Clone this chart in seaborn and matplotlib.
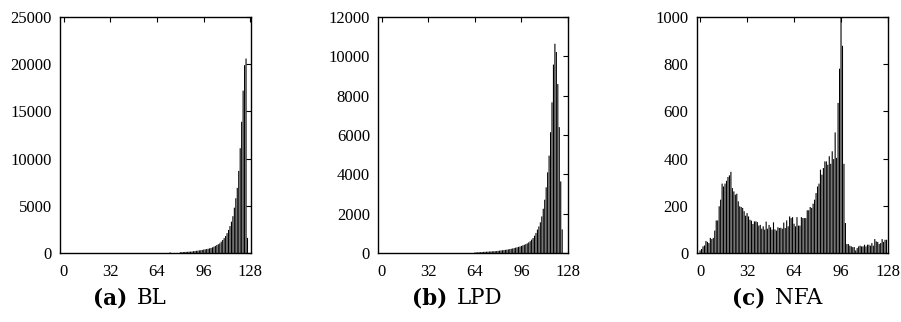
import numpy as np
import pandas as pd
import matplotlib
matplotlib.use("Agg")
import matplotlib.pyplot as plt
import seaborn as sns

# ---------------- data ----------------
bins = list(range(128))

bl_values = ([0] * 73 + [60] + [0] * 6 +
             [80, 90, 100, 110, 120, 130, 140, 150, 160, 190,
              210, 230, 250, 280, 300, 330, 360, 390, 420, 450,
              490, 530, 600, 670, 750, 850, 930, 1020, 1200, 1380,
              1580, 1800, 2100, 2440, 2850, 3320, 3900, 4800, 5800, 6900,
              8700, 11100, 13900, 17200, 19900, 20600, 1600, 0])

lpd_values = ([0] * 64 +
              [25, 30, 35, 40, 45, 50, 55, 60, 65, 70,
               75, 80, 85, 90, 95, 100, 110, 120, 130, 140,
               150, 160, 170, 185, 200, 215, 230, 250, 270, 290,
               310, 330, 360, 390, 420, 450, 490, 540, 600, 680,
               760, 880, 1020, 1190, 1350, 1560, 1860, 2250, 2710, 3340,
               4100, 4950, 6140, 7660, 9580, 10640, 10220, 8590, 6400, 3640,
               1200, 0, 0, 0])

nfa_values = [11, 17, 28, 32, 51, 47, 42, 64, 59, 64,
              95, 138, 138, 198, 226, 294, 282, 294, 306, 322,
              329, 344, 275, 261, 247, 251, 219, 198, 195, 191,
              177, 158, 169, 155, 141, 137, 123, 134, 134, 131,
              116, 119, 103, 113, 99, 133, 103, 119, 109, 99,
              130, 100, 95, 109, 106, 107, 103, 129, 106, 138,
              113, 155, 148, 152, 124, 113, 152, 116, 116, 152,
              148, 148, 148, 181, 181, 195, 191, 209, 226, 254,
              282, 294, 353, 332, 360, 388, 388, 374, 410, 378,
              431, 398, 511, 403, 636, 781, 1050, 878, 378, 127,
              38, 38, 31, 28, 25, 25, 11, 21, 28, 31,
              28, 28, 35, 28, 35, 35, 31, 42, 31, 59,
              49, 47, 38, 42, 59, 47, 56, 56]

captions = [("(a)", "BL"), ("(b)", "LPD"), ("(c)", "NFA")]
y_limits = [25000, 12000, 1000]
y_steps = [5000, 2000, 200]
x_ticks = [0, 32, 64, 96, 128]

# ---------------- figure ----------------
sns.set_style("white")
plt.rcParams["font.family"] = ["Liberation Serif", "DejaVu Serif"]
plt.rcParams["text.color"] = "black"

W, H = 901, 322
fig = plt.figure(figsize=(W / 100, H / 100), dpi=100)

ax_px = [(60.3, 250.7), (378.3, 568.3), (696.7, 888.3)]
cap_cx = [136, 456, 774]
top_px, bot_px = 17, 253

series = [bl_values, lpd_values, nfa_values]
for i, (vals, (l, r)) in enumerate(zip(series, ax_px)):
    ax = fig.add_axes([l / W, (H - bot_px) / H, (r - l) / W, (bot_px - top_px) / H])
    df = pd.DataFrame({"bin": bins, "count": vals})
    sns.barplot(data=df, x="bin", y="count", native_scale=True, color="black",
                saturation=1, width=0.75, linewidth=0, errorbar=None, ax=ax)
    for p in ax.patches:
        p.set_snap(False)
    ax.set_xlim(-2.3, 128.2)
    ax.set_ylim(0, y_limits[i])
    ax.set_xticks(x_ticks)
    ax.set_xticklabels([str(t) for t in x_ticks])
    yt = list(range(0, y_limits[i] + 1, y_steps[i]))
    ax.set_yticks(yt)
    ax.set_yticklabels([str(t) for t in yt])
    ax.set_xlabel("")
    ax.set_ylabel("")
    for s in ax.spines.values():
        s.set_visible(True)
        s.set_color("black")
        s.set_linewidth(1.0)
    ax.tick_params(axis="both", direction="in", length=3.5, width=0.8,
                   top=True, right=True, labelsize=12, colors="black")
    ax.tick_params(axis="y", pad=6)
    ax.tick_params(axis="x", pad=8)

    # caption
    cx = cap_cx[i] / W
    cy = (H - 298) / H
    fig.text(cx - 0.001, cy, captions[i][0] + " ", ha="right", va="center",
             fontsize=15.5, fontweight="bold", family=["DejaVu Serif"],
             color="black")
    fig.text(cx + 0.001, cy, captions[i][1], ha="left", va="center",
             fontsize=15.5, family=["DejaVu Serif"], color="black")

fig.savefig("out.png", dpi=100)
